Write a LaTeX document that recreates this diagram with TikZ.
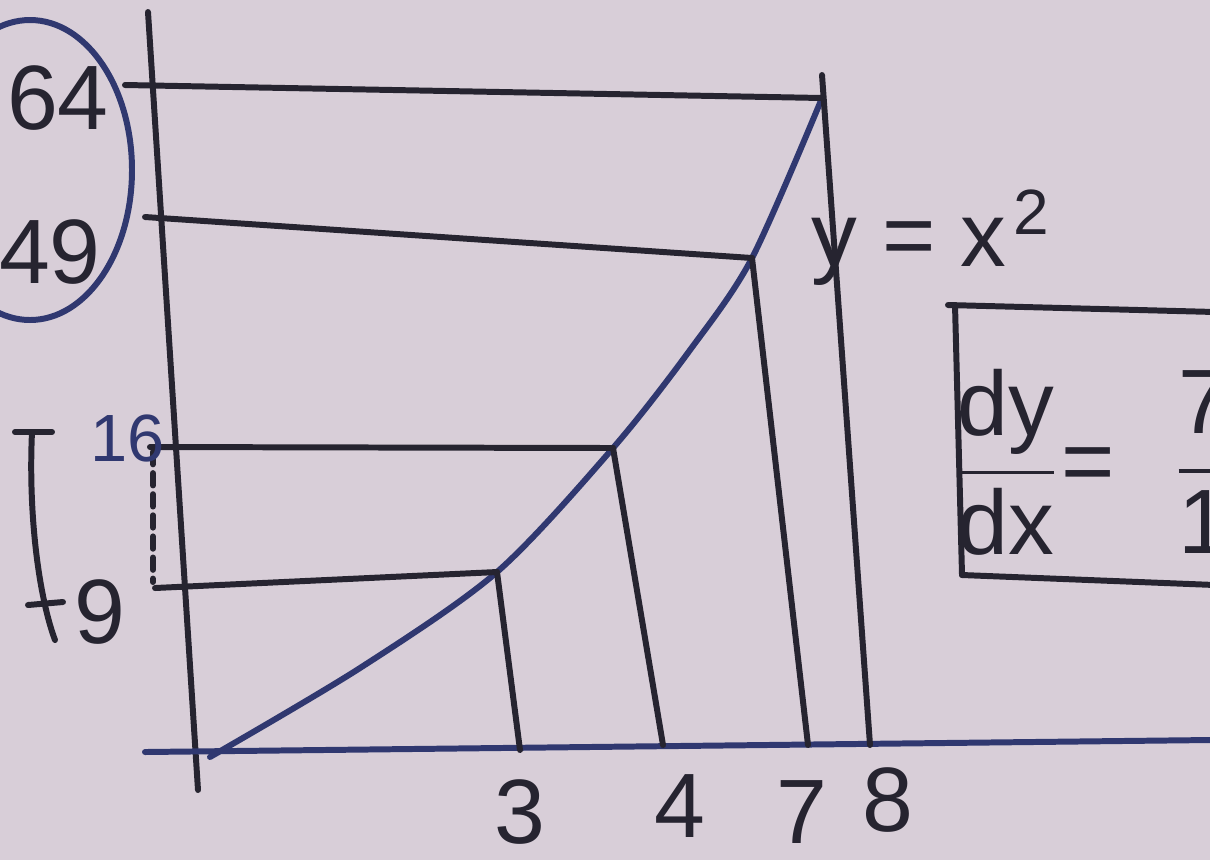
\documentclass[tikz,border=0pt]{standalone}
\usepackage{amsmath}
\usepackage{fontspec}
\setmainfont{Liberation Sans}
\usetikzlibrary{arrows.meta}

\definecolor{board}{RGB}{216,206,216}
\definecolor{ink}{RGB}{38,36,48}
\definecolor{blueink}{RGB}{48,56,112}

\begin{document}
\begin{tikzpicture}[x=0.01cm,y=-0.01cm,line width=1.7pt,line cap=round,
  ink/.style={draw=ink},
  bink/.style={draw=blueink},
  numlbl/.style={text=ink,inner sep=0pt,font=\fontsize{26pt}{28pt}\selectfont},
  smalllbl/.style={text=blueink,inner sep=0pt,font=\fontsize{19pt}{21pt}\selectfont}]

\fill[board] (0,0) rectangle (1210,860);
\clip (0,0) rectangle (1210,860);

% points on the curve
\coordinate (p3) at (497,572);
\coordinate (p4) at (613,448);
\coordinate (p7) at (752,258);
\coordinate (p8) at (822,98);

% axes
\draw[ink] (148,12) -- (198,790);
\draw[bink] (145,752) -- (1210,740);

% y = x^2
\draw[bink] plot[smooth,tension=0.5] coordinates {(210,757) (360,668) (p3) (p4) (690,350) (p7) (p8)};

% horizontal lines to the y axis
\draw[ink] (125,85) -- (p8);
\draw[ink] (145,217) -- (p7);
\draw[ink] (150,447) -- (p4);
\draw[ink] (155,588) -- (p3);

% vertical lines to the x axis
\draw[ink] (p3) -- (520,750);
\draw[ink] (p4) -- (663,745);
\draw[ink] (p7) -- (808,745);
\draw[ink] (822,75) -- (870,745);

% gap between 9 and 16
\draw[ink,dashed,dash pattern=on 3.5pt off 2.5pt] (153,452) -- (153,582);
\draw[ink] (15,432) -- (52,432);
\draw[ink] (32,432) .. controls (28,520) and (40,600) .. (55,640);
\draw[ink] (28,605) -- (63,602);

% ring round 64 and 49
\draw[bink] (30,170) ellipse [x radius=102, y radius=150];

\node[numlbl] (l64) at (58,98) {64};
\node[numlbl] (l49) at (50,252) {49};
\node[smalllbl] (l16) at (128,438) {16};
\node[numlbl] (l9) at (100,612) {9};

\node[numlbl] (l3) at (520,812) {3};
\node[numlbl] (l4) at (680,806) {4};
\node[numlbl] (l7) at (802,812) {7};
\node[numlbl] (l8) at (888,800) {8};

\node[numlbl,anchor=west] (curve) at (808,238) {y = x\textsuperscript{\kern2pt 2}};

% boxed slope
\draw[ink] (948,305) -- (1215,312);
\draw[ink] (955,305) -- (962,575);
\draw[ink] (962,575) -- (1215,585);
\node[numlbl] (dydx) at (1006,462) {$\displaystyle\frac{\text{dy}}{\text{dx}}$};
\node[numlbl] (eq) at (1088,470) {=};
\node[numlbl] (slope) at (1204,462) {$\displaystyle\frac{\text{7}}{\text{1}}$};

\end{tikzpicture}
\end{document}
